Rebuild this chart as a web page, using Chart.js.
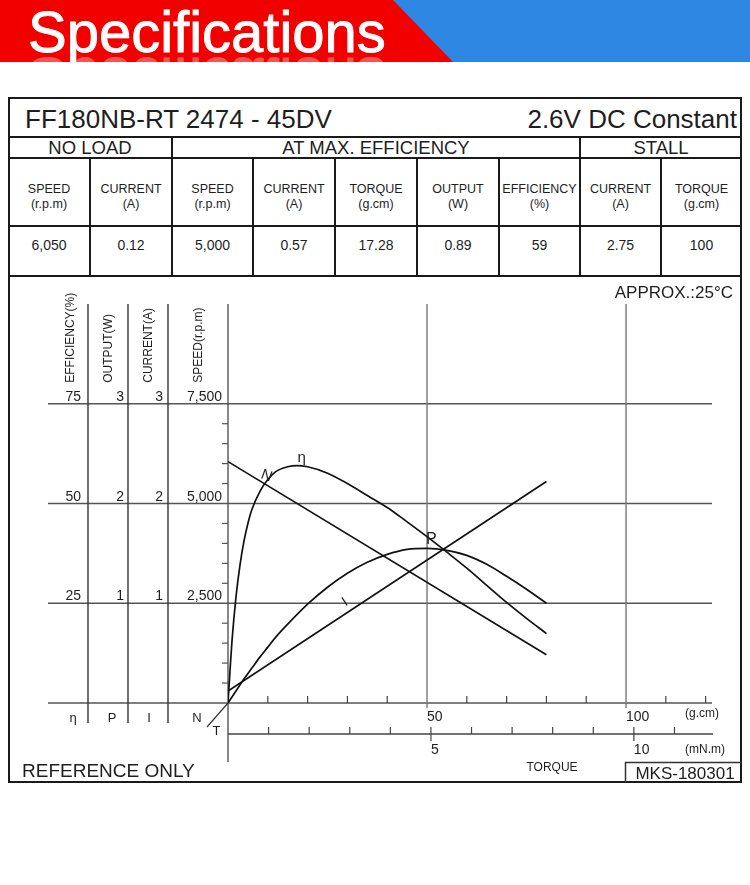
<!DOCTYPE html>
<html>
<head>
<meta charset="utf-8">
<script src="https://cdn.jsdelivr.net/npm/chart.js@4.4.1/dist/chart.umd.min.js"></script>
<style>
  html, body { margin: 0; padding: 0; background: #fff; }
  body { position: relative; width: 750px; height: 885px; overflow: hidden;
         font-family: "Liberation Sans", Arial, sans-serif; color: #1e1e1e; }
  .abs { position: absolute; }
  .banner { left: 0; top: 0; width: 750px; height: 62px; background: #2f87e4; overflow: hidden; }
  .banner .red { position: absolute; left: 0; top: 0; width: 750px; height: 62px; background: #f20000;
                 clip-path: polygon(0 0, 393px 0, 453px 62px, 0 62px); }
  .banner .ttl { position: absolute; left: 28px; top: 3px; font-size: 58px; line-height: 58px; color: #fff;
                 white-space: nowrap; -webkit-text-stroke: 0.9px #fff; }
  .banner .refl { opacity: .33; transform-origin: 0 52px; transform: scaleY(-1); }
  .frame { left: 8px; top: 97px; width: 734px; height: 686px; border: 2px solid #1a1a1a; box-sizing: border-box; }
  .ln { background: #1a1a1a; }
  .c { text-align: center; white-space: nowrap; }
  canvas { position: absolute; left: 8px; top: 276px; }
</style>
</head>
<body>
<div class="abs banner">
  <div class="red"></div>
  <div class="ttl refl">Specifications</div>
  <div class="ttl">Specifications</div>
</div>
<div class="abs frame"></div>
<div id="table"></div>
<canvas id="chart" width="734" height="507"></canvas>
<script>
// ── Spec table ─────────────────────────────────────────────
const modelName   = 'FF180NB-RT 2474 - 45DV';
const voltageNote = '2.6V DC Constant';
const groupNames  = ['NO LOAD', 'AT MAX. EFFICIENCY', 'STALL'];
const groupSpans  = [2, 5, 2];
const headNames   = ['SPEED', 'CURRENT', 'SPEED', 'CURRENT', 'TORQUE', 'OUTPUT', 'EFFICIENCY', 'CURRENT', 'TORQUE'];
const headUnits   = ['(r.p.m)', '(A)', '(r.p.m)', '(A)', '(g.cm)', '(W)', '(%)', '(A)', '(g.cm)'];
const specValues  = ['6,050', '0.12', '5,000', '0.57', '17.28', '0.89', '59', '2.75', '100'];

// ── Curves (torque in g.cm) ────────────────────────────────
const effTorque  = [0, 0.5, 1, 2, 3, 4, 5, 6, 8, 10, 12, 15, 17.3, 20, 25, 30, 35, 40, 45, 50, 55, 60, 65, 70, 75, 80];
const efficiency = [0, 8, 15.5, 26.5, 34.5, 40.5, 45, 48.5, 53, 56, 58, 59.2, 59.5, 59.2, 57.6, 55, 52, 49, 45.4, 41.7, 37.8, 33.8, 29.5, 25.2, 21.2, 17.4];
const outTorque  = [0, 2, 4, 6, 8, 10, 12, 15, 20, 25, 30, 35, 40, 45, 50, 55, 60, 65, 70, 75, 80];
const output     = [0, 0.12, 0.24, 0.35, 0.46, 0.56, 0.66, 0.79, 0.99, 1.16, 1.30, 1.41, 1.49, 1.54, 1.55, 1.53, 1.48, 1.39, 1.27, 1.14, 1.00];
const lineTorque = [0, 80];
const speed      = [6050, 1210];
const current    = [0.12, 2.22];

// ── Axis ticks ─────────────────────────────────────────────
const effTicks   = [25, 50, 75];
const outTicks   = [1, 2, 3];
const curTicks   = [1, 2, 3];
const speedTicks = [2500, 5000, 7500];
const gcmTicks   = [50, 100];
const mnmTicks   = [5, 10];
const scaleNames = ['EFFICIENCY(%)', 'OUTPUT(W)', 'CURRENT(A)', 'SPEED(r.p.m)'];
const scaleSyms  = ['η', 'P', 'I', 'N'];

const FONT = '"Liberation Sans", Arial, sans-serif';
const colX = [8, 90, 172, 253, 335, 417, 499, 580, 661, 742];
const tbl = document.getElementById('table');

function box(left, top, width, height, cls, html, css) {
  const d = document.createElement('div');
  d.className = 'abs ' + (cls || '');
  d.style.cssText = `left:${left}px;top:${top}px;width:${width}px;height:${height}px;` + (css || '');
  if (html) d.innerHTML = html;
  tbl.appendChild(d);
  return d;
}

box(25, 99, 400, 40, '', modelName, 'font-size:26px;line-height:41px;white-space:nowrap');
box(400, 99, 337, 40, '', voltageNote, 'font-size:26px;line-height:41px;text-align:right;white-space:nowrap');

// horizontal rules
box(8, 136, 734, 2, 'ln');
box(8, 157, 734, 2, 'ln');
box(8, 225, 734, 1.5, 'ln');
box(8, 275, 734, 2, 'ln');

let ci = 0;
groupNames.forEach((g, i) => {
  const l = colX[ci], r = colX[ci + groupSpans[i]];
  box(l, 137, r - l, 21, 'c', g, 'font-size:18.5px;line-height:22px');
  ci += groupSpans[i];
  if (i < groupNames.length - 1) box(r - 1, 137, 2, 139, 'ln');
});
headNames.forEach((h, i) => {
  const l = colX[i], w = colX[i + 1] - colX[i];
  box(l, 182, w, 32, 'c', h + '<br>' + headUnits[i], 'font-size:12.5px;line-height:15px');
  box(l, 235, w, 20, 'c', specValues[i], 'font-size:14px;line-height:20px');
  if (i > 0 && colX[i] !== 172 && colX[i] !== 580) box(colX[i] - 0.75, 158, 1.5, 118, 'ln');
});

// ── Chart decorations drawn off the library's scales ──────
const decor = {
  id: 'decor',
  beforeDatasetsDraw(chart) {
    const { ctx, chartArea: a, scales } = chart;
    const x = scales.x, xm = scales.xMN, yN = scales.yN;
    const line = (x1, y1, x2, y2, color, w) => {
      ctx.beginPath(); ctx.strokeStyle = color; ctx.lineWidth = w;
      ctx.moveTo(x1, y1); ctx.lineTo(x2, y2); ctx.stroke();
    };
    ctx.save();
    // horizontal grid, running through the scale columns
    [0, ...speedTicks].forEach(v => {
      const py = yN.getPixelForValue(v);
      line(a.left - 180, py, a.right, py, '#555', 1.4);
    });
    // scale column separators
    [-140, -100, -60].forEach(dx => line(a.left + dx, a.top, a.left + dx, a.bottom + 20, '#333', 1.4));
    // speed axis
    line(a.left, a.top, a.left, a.bottom + 59, '#555', 1.4);
    for (let v = 500; v <= 7000; v += 500) {
      if (speedTicks.includes(v)) continue;
      const py = yN.getPixelForValue(v);
      line(a.left - 6, py, a.left, py, '#555', 1.2);
    }
    // vertical grid at 50 / 100 g.cm
    gcmTicks.forEach(v => {
      const px = x.getPixelForValue(v);
      line(px, a.top, px, a.bottom + 5, '#777', 1.4);
    });
    // g.cm minor ticks
    for (let v = 10; v <= 120; v += 10) {
      if (gcmTicks.includes(v)) continue;
      const px = x.getPixelForValue(v);
      line(px, a.bottom - 7, px, a.bottom, '#444', 1.2);
    }
    // mN.m axis
    const my = a.bottom + 31;
    line(a.left, my, a.right + 1, my, '#444', 1.3);
    for (let v = 1; v <= 11; v++) {
      const px = xm.getPixelForValue(v);
      const major = mnmTicks.includes(v);
      line(px, my - 7, px, my + (major ? 7 : 0), '#444', 1.2);
    }
    // N / T corner marker
    line(a.left - 21, a.bottom + 24, a.left, a.bottom, '#333', 1.2);
    ctx.restore();
  },
  afterDatasetsDraw(chart) {
    const { ctx, chartArea: a, scales } = chart;
    const x = scales.x, xm = scales.xMN;
    ctx.save();
    ctx.fillStyle = '#1e1e1e';

    // rotated scale names
    const nameX = [-157, -119, -79, -29];
    const y7500 = scales.yN.getPixelForValue(7500);
    ctx.font = '12px ' + FONT;
    ctx.textBaseline = 'middle';
    ctx.textAlign = 'left';
    scaleNames.forEach((n, i) => {
      ctx.save();
      ctx.translate(a.left + nameX[i], y7500 - 21);
      ctx.rotate(-Math.PI / 2);
      ctx.fillText(n, 0, 0);
      ctx.restore();
    });

    // tick labels of each scale column
    ctx.font = '14px ' + FONT;
    ctx.textAlign = 'right';
    ctx.textBaseline = 'alphabetic';
    const cols = [
      [scales.yE, effTicks, -147, v => String(v)],
      [scales.yP, outTicks, -104, v => String(v)],
      [scales.yI, curTicks, -65, v => String(v)],
      [scales.yN, speedTicks, -6, v => v.toLocaleString('en-US')]
    ];
    cols.forEach(([s, ticks, dx, fmt]) => {
      ticks.forEach(v => ctx.fillText(fmt(v), a.left + dx, s.getPixelForValue(v) - 3));
    });

    // symbols under the columns
    ctx.font = '13px ' + FONT;
    ctx.textAlign = 'center';
    ctx.textBaseline = 'middle';
    [-155, -116, -79, -31].forEach((dx, i) => ctx.fillText(scaleSyms[i], a.left + dx, a.bottom + 15));
    ctx.fillText('T', a.left - 11.5, a.bottom + 28);

    // torque axis labels
    ctx.textAlign = 'left';
    ctx.textBaseline = 'alphabetic';
    ctx.font = '14px ' + FONT;
    gcmTicks.forEach(v => ctx.fillText(String(v), x.getPixelForValue(v), a.bottom + 18));
    mnmTicks.forEach(v => ctx.fillText(String(v), xm.getPixelForValue(v), a.bottom + 51));
    ctx.font = '12px ' + FONT;
    ctx.fillText('(g.cm)', a.right - 27, a.bottom + 14);
    ctx.fillText('(mN.m)', a.right - 27, a.bottom + 50);
    ctx.textAlign = 'center';
    ctx.fillText('TORQUE', 544, a.bottom + 68);

    // corner notes
    ctx.font = '17px ' + FONT;
    ctx.textAlign = 'right';
    ctx.fillText('APPROX.:25°C', a.right + 21, a.top - 6);
    ctx.font = '19px ' + FONT;
    ctx.textAlign = 'left';
    ctx.fillText('REFERENCE ONLY', 14, 501);
    ctx.strokeStyle = '#333';
    ctx.lineWidth = 1.5;
    ctx.strokeRect(617.5, 486.5, 120, 25);
    ctx.font = '17px ' + FONT;
    ctx.textAlign = 'center';
    ctx.fillText('MKS-180301', 677, 503);

    // curve labels
    ctx.font = '15px ' + FONT;
    ctx.fillText('η', x.getPixelForValue(18.5), scales.yE.getPixelForValue(60.5));
    ctx.font = '16px ' + FONT;
    ctx.textBaseline = 'middle';
    ctx.fillText('P', x.getPixelForValue(51.1), scales.yP.getPixelForValue(1.64));
    const rot = (txt, px, py, ang) => {
      ctx.save(); ctx.translate(px, py); ctx.rotate(ang); ctx.fillText(txt, 0, 0); ctx.restore();
    };
    ctx.font = '14px ' + FONT;
    rot('I', x.getPixelForValue(29.4), scales.yI.getPixelForValue(1.01), -0.58);
    ctx.font = '15px ' + FONT;
    rot('N', x.getPixelForValue(9.7), scales.yN.getPixelForValue(5690), 0.35);
    ctx.restore();
  }
};

const pts = (xs, ys) => xs.map((t, i) => ({ x: t, y: ys[i] }));
const curve = { borderColor: '#111', borderWidth: 1.7, pointRadius: 0, fill: false };

new Chart(document.getElementById('chart'), {
  type: 'line',
  data: {
    datasets: [
      { ...curve, label: 'η', data: pts(effTorque, efficiency), yAxisID: 'yE', cubicInterpolationMode: 'monotone' },
      { ...curve, label: 'P', data: pts(outTorque, output), yAxisID: 'yP', cubicInterpolationMode: 'monotone' },
      { ...curve, label: 'N', data: pts(lineTorque, speed), yAxisID: 'yN' },
      { ...curve, label: 'I', data: pts(lineTorque, current), yAxisID: 'yI' }
    ]
  },
  options: {
    responsive: false,
    animation: false,
    layout: { padding: { left: 220, right: 30, top: 28, bottom: 80 } },
    plugins: { legend: { display: false }, tooltip: { enabled: false } },
    scales: {
      x:   { type: 'linear', min: 0, max: 121.6, display: false },
      xMN: { type: 'linear', axis: 'x', position: 'bottom', min: 0, max: 121.6 / 10.197, display: false },
      yN:  { type: 'linear', min: 0, max: 10000, display: false },
      yE:  { type: 'linear', min: 0, max: 100, display: false },
      yP:  { type: 'linear', min: 0, max: 4, display: false },
      yI:  { type: 'linear', min: 0, max: 4, display: false }
    }
  },
  plugins: [decor]
});
</script>
</body>
</html>
